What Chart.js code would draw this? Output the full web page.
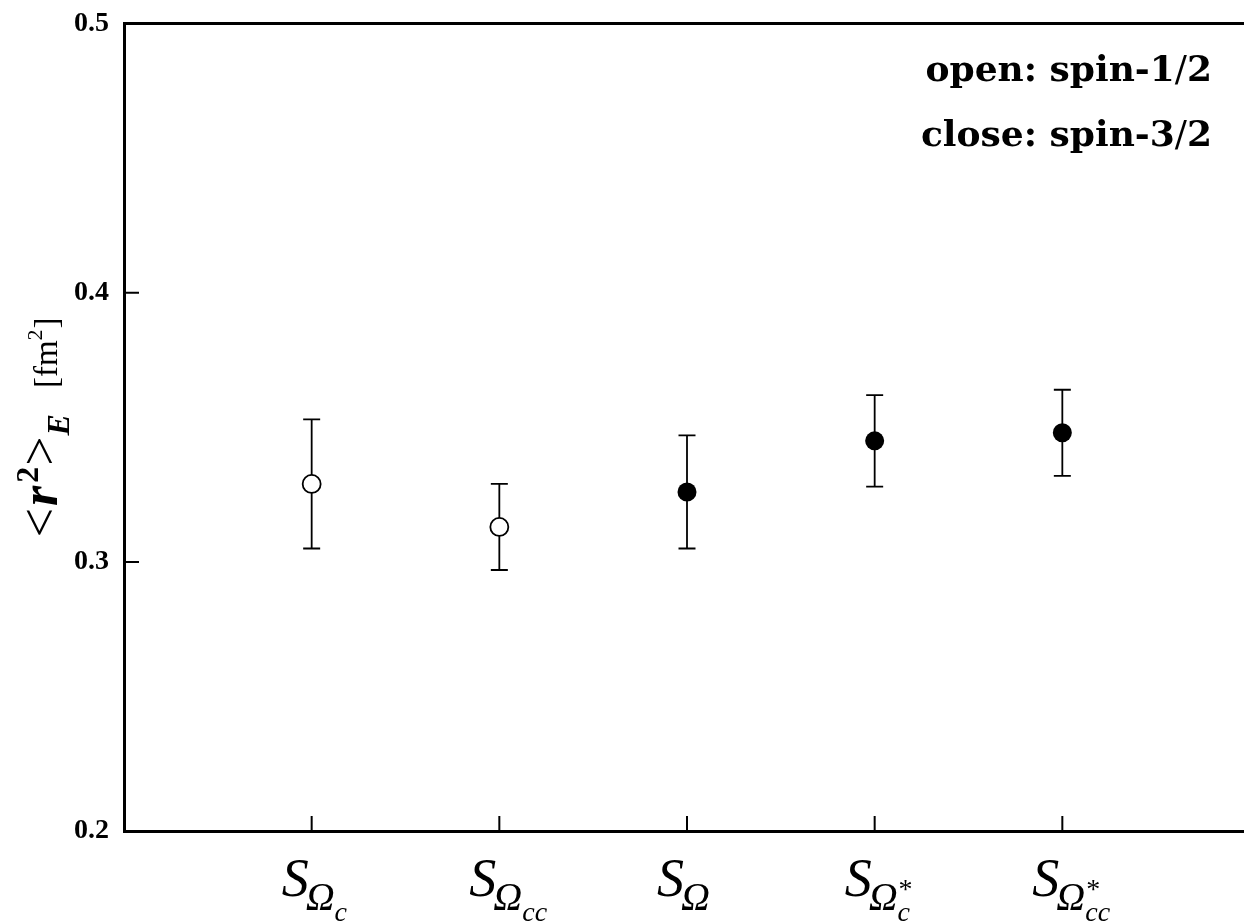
<!DOCTYPE html>
<html>
<head>
<meta charset="utf-8">
<script src="https://cdn.jsdelivr.net/npm/chart.js@4/dist/chart.umd.min.js"></script>
<style>
  html, body { margin: 0; padding: 0; background: #fff; overflow: hidden; }
  #wrap { width: 1250px; height: 923px; }
</style>
</head>
<body>
<div id="wrap"><canvas id="radius-chart" width="1250" height="923"></canvas></div>
<script>
// states along the x axis: subscript of Omega and whether it is the starred (spin-3/2) partner
let stateSubs = ['c', 'cc', '', 'c', 'cc']
let stateStars = [false, false, false, true, true]
let stateSpin = ['1/2', '1/2', '3/2', '3/2', '3/2']

// <r^2>_E in fm^2 with error band
let radiusValues = [0.329, 0.313, 0.326, 0.345, 0.348]
let radiusUpper = [0.353, 0.329, 0.347, 0.362, 0.364]
let radiusLower = [0.305, 0.297, 0.305, 0.328, 0.332]

let yTicks = [0.2, 0.3, 0.4, 0.5]

let openPoints = []
let closedPoints = []
radiusValues.forEach((v, i) => {
    let p = { x: i + 1, y: v, hi: radiusUpper[i], lo: radiusLower[i] }
    if (stateSpin[i] === '1/2') openPoints.push(p)
    else closedPoints.push(p)
})

const SERIF = '"Liberation Serif", "Times New Roman", serif'

// draws a list of text runs on one baseline, each with its own font and shift
function drawRuns(ctx, runs, x, y, align) {
    let total = 0
    runs.forEach(r => {
        ctx.font = r.font
        r.w = ctx.measureText(r.text).width
        total += r.w + (r.kern || 0)
    })
    let cx = align === 'right' ? x - total : align === 'center' ? x - total / 2 : x
    runs.forEach(r => {
        ctx.font = r.font
        cx += r.kern || 0
        ctx.fillText(r.text, cx, y + (r.dy || 0))
        cx += r.w
    })
}

// vertical error bars with caps, behind the markers
const errorBars = {
    id: 'errorBars',
    beforeDatasetsDraw(chart) {
        const ctx = chart.ctx
        const yScale = chart.scales.y
        ctx.save()
        ctx.strokeStyle = '#000'
        ctx.lineWidth = 1.8
        chart.data.datasets.forEach((ds, di) => {
            chart.getDatasetMeta(di).data.forEach((pt, j) => {
                const raw = ds.data[j]
                const yHi = yScale.getPixelForValue(raw.hi)
                const yLo = yScale.getPixelForValue(raw.lo)
                ctx.beginPath()
                ctx.moveTo(pt.x, yHi); ctx.lineTo(pt.x, yLo)
                ctx.moveTo(pt.x - 8.5, yHi); ctx.lineTo(pt.x + 8.5, yHi)
                ctx.moveTo(pt.x - 8.5, yLo); ctx.lineTo(pt.x + 8.5, yLo)
                ctx.stroke()
            })
        })
        ctx.restore()
    }
}

// inward tick marks, state labels, axis title and the open/close note
const decorations = {
    id: 'decorations',
    afterDraw(chart) {
        const ctx = chart.ctx
        const area = chart.chartArea
        const xScale = chart.scales.x
        const yScale = chart.scales.y
        ctx.save()
        ctx.strokeStyle = '#000'
        ctx.fillStyle = '#000'
        ctx.lineWidth = 2
        ctx.beginPath()
        yTicks.forEach(v => {
            const py = yScale.getPixelForValue(v)
            ctx.moveTo(area.left, py); ctx.lineTo(area.left + 15, py)
        })
        stateSubs.forEach((s, i) => {
            const px = xScale.getPixelForValue(i + 1)
            ctx.moveTo(px, area.bottom); ctx.lineTo(px, area.bottom - 15)
        })
        ctx.stroke()

        // S_{Omega_sub}^{*}, the S starts a fixed distance left of the tick
        ctx.textBaseline = 'alphabetic'
        stateSubs.forEach((s, i) => {
            const px = xScale.getPixelForValue(i + 1)
            const fS = 'italic 54px ' + SERIF
            const fO = 'italic 40px ' + SERIF
            const fC = 'italic 28px ' + SERIF
            const fStar = '28px ' + SERIF
            ctx.font = fS; const wS = ctx.measureText('S').width
            ctx.font = fO; const wO = ctx.measureText('Ω').width
            let x0 = px - 30
            ctx.font = fS; ctx.fillText('S', x0, 896)
            x0 += wS - 3
            ctx.font = fO; ctx.fillText('Ω', x0, 910)
            x0 += wO
            if (s) { ctx.font = fC; ctx.fillText(s, x0, 921) }
            if (stateStars[i]) { ctx.font = fStar; ctx.fillText('*', x0 + 1, 898) }
        })

        // y axis title, rotated
        ctx.save()
        ctx.translate(57, (area.top + area.bottom) / 2)
        ctx.rotate(-Math.PI / 2)
        drawRuns(ctx, [
            { text: '<', font: '52px ' + SERIF },
            { text: 'r', font: 'bold italic 52px ' + SERIF, kern: 2 },
            { text: '2', font: 'bold 32px ' + SERIF, dy: -19, kern: 3 },
            { text: '>', font: '52px ' + SERIF, kern: 1 },
            { text: 'E', font: 'bold italic 32px ' + SERIF, dy: 12, kern: 1 },
            { text: '[fm', font: '33px ' + SERIF, kern: 26 },
            { text: '2', font: '22px ' + SERIF, dy: -15 },
            { text: ']', font: '33px ' + SERIF, kern: 1 }
        ], 0, 0, 'center')
        ctx.restore()

        // marker note
        const fB = 'bold 36px "DejaVu Serif", serif'
        const fR = '36px "DejaVu Serif", serif'
        drawRuns(ctx, [
            { text: 'open: spin-1', font: fB },
            { text: '/', font: fR },
            { text: '2', font: fB }
        ], 1212, 81, 'right')
        drawRuns(ctx, [
            { text: 'close: spin-3', font: fB },
            { text: '/', font: fR },
            { text: '2', font: fB }
        ], 1212, 146, 'right')
        ctx.restore()
    }
}

new Chart(document.getElementById('radius-chart'), {
    type: 'scatter',
    data: {
        datasets: [{
            label: 'spin-1/2',
            data: openPoints,
            pointRadius: 9,
            pointBackgroundColor: '#fff',
            pointBorderColor: '#000',
            pointBorderWidth: 1.8,
            showLine: false
        }, {
            label: 'spin-3/2',
            data: closedPoints,
            pointRadius: 9.5,
            pointBackgroundColor: '#000',
            pointBorderColor: '#000',
            pointBorderWidth: 0,
            showLine: false
        }]
    },
    options: {
        responsive: false,
        animation: false,
        devicePixelRatio: 1,
        layout: { autoPadding: false, padding: { top: 21, right: 0, bottom: 0, left: 0 } },
        plugins: {
            legend: { display: false },
            tooltip: { enabled: false }
        },
        scales: {
            x: {
                type: 'linear',
                position: 'bottom',
                min: 0,
                max: 6,
                grid: { display: false },
                ticks: { display: false },
                border: { display: true, color: '#000', width: 3 },
                afterFit(axis) { axis.height = 92 }
            },
            xTop: {
                type: 'linear',
                position: 'top',
                min: 0,
                max: 6,
                grid: { display: false },
                ticks: { display: false },
                border: { display: true, color: '#000', width: 3 },
                afterFit(axis) { axis.height = 0 }
            },
            y: {
                type: 'linear',
                min: 0.2,
                max: 0.5,
                grid: { display: false },
                border: { display: true, color: '#000', width: 3 },
                ticks: {
                    color: '#000',
                    padding: 7,
                    font: { family: '"Liberation Serif"', size: 28, weight: 'bold' },
                    callback: v => v.toFixed(1)
                },
                afterBuildTicks(axis) { axis.ticks = yTicks.map(v => ({ value: v })) },
                afterFit(axis) { axis.width = 124 }
            }
        }
    },
    plugins: [errorBars, decorations]
});
</script>
</body>
</html>
